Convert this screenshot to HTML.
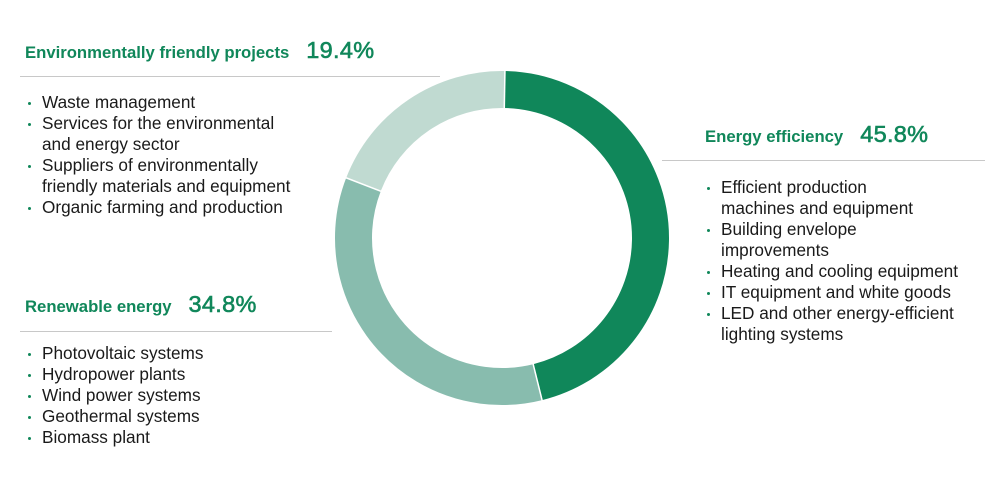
<!DOCTYPE html>
<html><head><style>
body{margin:0;width:1000px;height:480px;background:#fff;font-family:"Liberation Sans",Arial,sans-serif;position:relative;overflow:hidden}
.h{position:absolute;color:#10875a;font-weight:bold;font-size:16.7px;white-space:nowrap}
.h span{font-size:23.5px;margin-left:17px;letter-spacing:0.3px;font-weight:normal;-webkit-text-stroke:0.6px #10875a}
.ln{position:absolute;height:1px;background:#c8c8c8}
ul{position:absolute;margin:0;padding:0;list-style:none;font-size:17.2px;line-height:21px;color:#1a1a1a}
li{position:relative;padding-left:16px}
li::before{content:"";position:absolute;left:2px;top:10px;width:3px;height:3px;background:#10875a;border-radius:50%}
</style></head><body>
<svg width="1000" height="480" style="position:absolute;left:0;top:0">
<g transform="translate(502,238) rotate(-90)" fill="none" stroke-width="37">
<circle r="148.5" stroke="#10875a" stroke-dasharray="427.3 1000" transform="rotate(1)"/>
<circle r="148.5" stroke="#88bcae" stroke-dasharray="324.7 1000" transform="rotate(165.9)"/>
<circle r="148.5" stroke="#c0dad1" stroke-dasharray="181 1000" transform="rotate(291.2)"/>
</g>
<g transform="translate(502,238)" stroke="#fff" stroke-width="1.5">
<line x1="0" y1="0" x2="3" y2="-170" />
<line x1="0" y1="0" x2="42" y2="170" />
<line x1="0" y1="0" x2="-158" y2="-61" />
</g>
<circle cx="502" cy="238" r="129.5" fill="#fff"/>
</svg>
<div class="h" style="left:25px;top:37px">Environmentally friendly projects<span>19.4%</span></div>
<div class="ln" style="left:20px;top:76px;width:420px"></div>
<ul style="left:26px;top:92px">
<li>Waste management</li>
<li>Services for the environmental<br>and energy sector</li>
<li>Suppliers of environmentally<br>friendly materials and equipment</li>
<li>Organic farming and production</li>
</ul>
<div class="h" style="left:705px;top:121px">Energy efficiency<span>45.8%</span></div>
<div class="ln" style="left:662px;top:160px;width:323px"></div>
<ul style="left:705px;top:177px">
<li>Efficient production<br>machines and equipment</li>
<li>Building envelope<br>improvements</li>
<li>Heating and cooling equipment</li>
<li>IT equipment and white goods</li>
<li>LED and other energy-efficient<br>lighting systems</li>
</ul>
<div class="h" style="left:25px;top:291px">Renewable energy<span>34.8%</span></div>
<div class="ln" style="left:20px;top:331px;width:312px"></div>
<ul style="left:26px;top:343px">
<li>Photovoltaic systems</li>
<li>Hydropower plants</li>
<li>Wind power systems</li>
<li>Geothermal systems</li>
<li>Biomass plant</li>
</ul>
</body></html>
